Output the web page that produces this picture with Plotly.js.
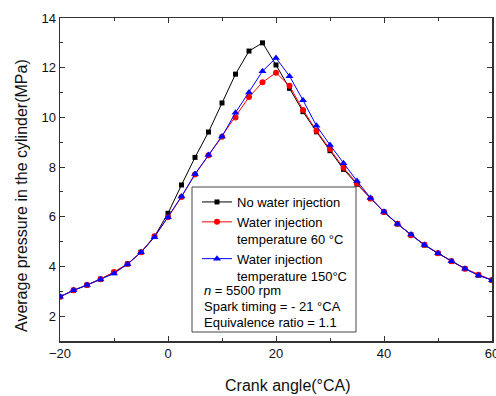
<!DOCTYPE html>
<html>
<head>
<meta charset="utf-8">
<script src="https://cdn.plot.ly/plotly-3.0.1.min.js"></script>
<style>html,body{margin:0;padding:0;background:#fff;}#chart{width:496px;height:396px;}</style>
</head>
<body>
<div id="chart"></div>
<script>
const crankAngle = [-20, -17.5, -15, -12.5, -10, -7.5, -5, -2.5, 0, 2.5, 5, 7.5, 10, 12.5, 15, 17.5, 20, 22.5, 25, 27.5, 30, 32.5, 35, 37.5, 40, 42.5, 45, 47.5, 50, 52.5, 55, 57.5, 60];
const noWater = [2.78, 3.04, 3.25, 3.49, 3.75, 4.10, 4.57, 5.21, 6.14, 7.28, 8.39, 9.41, 10.58, 11.74, 12.67, 13.00, 12.11, 11.17, 10.23, 9.42, 8.66, 7.91, 7.31, 6.73, 6.19, 5.71, 5.27, 4.86, 4.53, 4.21, 3.91, 3.65, 3.45];
const water60 = [2.78, 3.04, 3.25, 3.49, 3.78, 4.10, 4.57, 5.22, 5.98, 6.80, 7.70, 8.48, 9.22, 10.00, 10.82, 11.41, 11.80, 11.27, 10.30, 9.46, 8.73, 7.97, 7.35, 6.74, 6.19, 5.72, 5.26, 4.87, 4.53, 4.21, 3.91, 3.67, 3.45];
const water150 = [2.78, 3.04, 3.25, 3.48, 3.72, 4.09, 4.57, 5.18, 5.98, 6.82, 7.72, 8.49, 9.23, 10.19, 11.00, 11.86, 12.39, 11.66, 10.69, 9.66, 8.89, 8.15, 7.44, 6.76, 6.20, 5.71, 5.29, 4.86, 4.53, 4.21, 3.91, 3.64, 3.45];
const seriesNames = ["No water injection", "Water injection<br>temperature 60 °C", "Water injection<br>temperature 150°C"];
const noteLines = ["<i>n</i> = 5500 rpm", "Spark timing = - 21 °CA", "Equivalence ratio = 1.1"];
const xTickVals = [-20, 0, 20, 40, 60];
const yTickVals = [2, 4, 6, 8, 10, 12, 14];
const xTitle = "Crank angle(°CA)";
const yTitle = "Average pressure in the cylinder(MPa)";

const W = 496, H = 396, mL = 60, mR = 4, mT = 18, mB = 55;
const pw = W - mL - mR, ph = H - mT - mB;
const px = v => (v - mL) / pw;
const py = v => (H - mB - v) / ph;

const font = "Liberation Sans, Arial, sans-serif";
const traces = [
  {x: crankAngle, y: noWater, name: seriesNames[0], mode: "lines+markers",
   line: {color: "#000000", width: 1}, marker: {symbol: "square", size: 5, color: "#000000"}},
  {x: crankAngle, y: water60, name: seriesNames[1], mode: "lines+markers",
   line: {color: "#ff0000", width: 1}, marker: {symbol: "circle", size: 6, color: "#ff0000"}},
  {x: crankAngle, y: water150, name: seriesNames[2], mode: "lines+markers",
   line: {color: "#0000ff", width: 1}, marker: {symbol: "triangle-up", size: 7, color: "#0000ff"}}
];

const axisCommon = {
  showgrid: false, zeroline: false, showline: true, linecolor: "#333333", linewidth: 1.5,
  mirror: "ticks", ticks: "inside", ticklen: 5, tickwidth: 1, tickcolor: "#333333",
  tickfont: {family: font, size: 13, color: "#111111"}, ticklabeloverflow: "allow",
  minor: {ticks: "inside", ticklen: 3, tickwidth: 1, tickcolor: "#333333"}
};

const annotations = [
  {text: xTitle, xref: "paper", yref: "paper", x: px(288), y: py(385), showarrow: false,
   xanchor: "center", yanchor: "middle", font: {family: font, size: 16, color: "#111"}},
  {text: yTitle, xref: "paper", yref: "paper", x: px(22), y: py(196), showarrow: false, textangle: -90,
   xanchor: "center", yanchor: "middle", font: {family: font, size: 16, color: "#111"}}
];
noteLines.forEach((t, i) => {
  annotations.push({text: t, xref: "paper", yref: "paper", x: px(202), y: py(290 + i * 16.3),
    showarrow: false, xanchor: "left", yanchor: "middle", font: {family: font, size: 13, color: "#000"}});
});

const layout = {
  width: W, height: H,
  margin: {l: mL, r: mR, t: mT, b: mB, pad: 0},
  paper_bgcolor: "#ffffff", plot_bgcolor: "#ffffff",
  font: {family: font, size: 13, color: "#000"},
  xaxis: Object.assign({}, axisCommon, {range: [-20, 60], tickvals: xTickVals,
    minor: Object.assign({}, axisCommon.minor, {tickvals: [-10, 10, 30, 50]})}),
  yaxis: Object.assign({}, axisCommon, {range: [1, 14], tickvals: yTickVals,
    minor: Object.assign({}, axisCommon.minor, {tickvals: [1, 3, 5, 7, 9, 11, 13]})}),
  showlegend: true,
  legend: {x: px(197), y: py(187), xanchor: "left", yanchor: "top", bgcolor: "rgba(0,0,0,0)",
    borderwidth: 0, valign: "top", tracegroupgap: 0, itemwidth: 30,
    font: {family: font, size: 13, color: "#000"}},
  shapes: [
    {type: "rect", xref: "paper", yref: "paper", x0: px(192), x1: px(356), y0: py(187), y1: py(332),
     line: {color: "#444444", width: 1}, fillcolor: "rgba(255,255,255,1)", layer: "above"}
  ],
  annotations: annotations
};
Plotly.newPlot("chart", traces, layout, {staticPlot: true, displayModeBar: false});
</script>
</body>
</html>
